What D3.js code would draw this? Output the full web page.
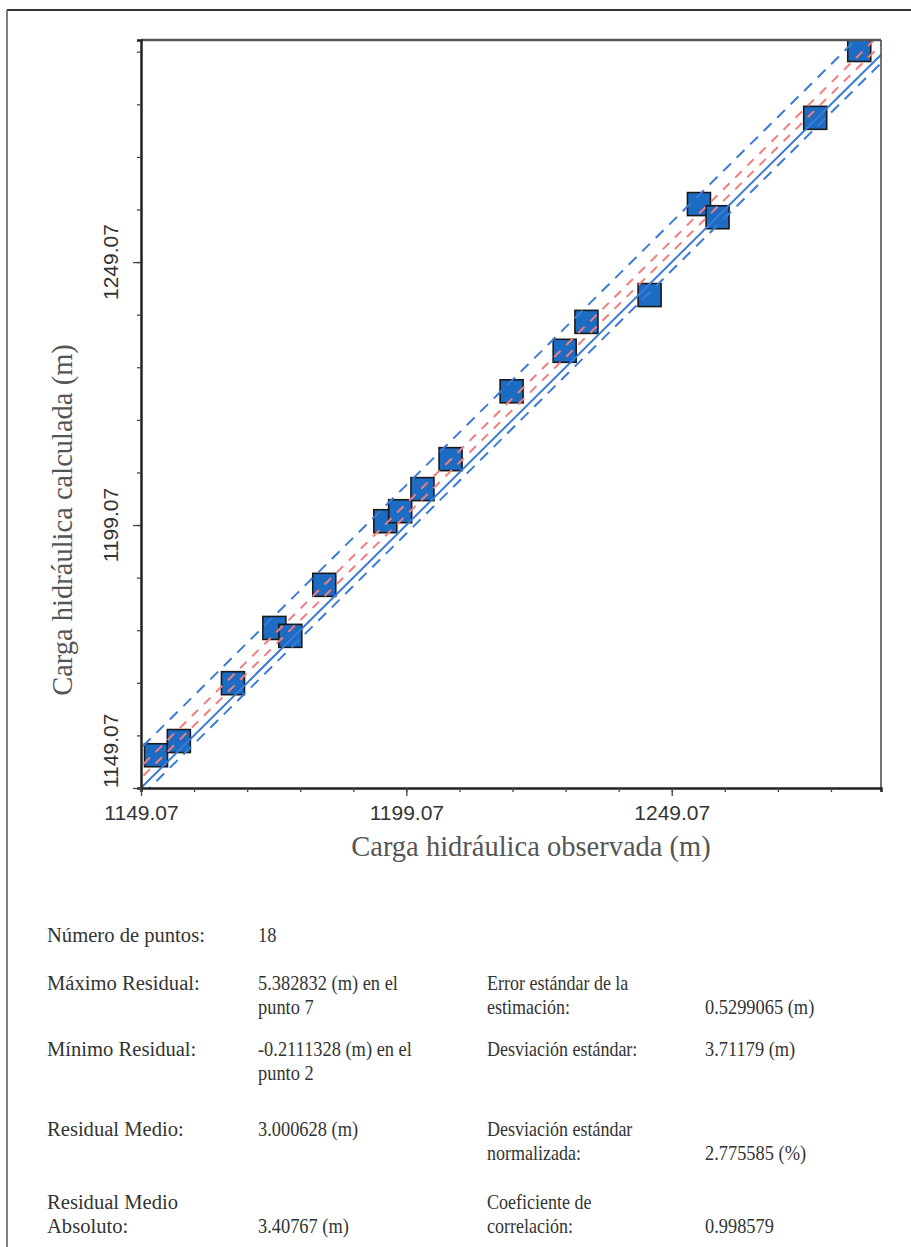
<!DOCTYPE html>
<html>
<head>
<meta charset="utf-8">
<script src="https://cdn.jsdelivr.net/npm/d3@7/dist/d3.min.js"></script>
<style>
  html, body { margin: 0; padding: 0; background: #fff; }
  svg { display: block; }
</style>
</head>
<body>
<svg id="chart" width="911" height="1247"></svg>
<script>
// ---- data ----
const observed   = [1151.9, 1156.2, 1166.4, 1174.2, 1177.2, 1183.6, 1195.1, 1197.9, 1202.1,
                    1207.4, 1218.9, 1228.9, 1233.0, 1244.9, 1254.2, 1257.7, 1276.1, 1284.4];
const calculated = [1155.3, 1158.0, 1169.0, 1179.5, 1178.0, 1187.7, 1199.8, 1201.7, 1205.9,
                    1211.6, 1224.5, 1232.2, 1237.7, 1242.8, 1260.1, 1257.6, 1276.5, 1289.4];
// reference lines: offset from the 1:1 line (m) and style
const lineOffsets = [7.6, 4.1, 1.9, 0, -1.6];
const lineKinds   = ["blueDash", "redDash", "redDash", "blueSolid", "blueDash"];
const majorTicks  = [1149.07, 1199.07, 1249.07];
const tickLabels  = ["1149.07", "1199.07", "1249.07"];
const axisMin = 1149.07, xAxisMax = 1288.5, yAxisMax = 1291.3;
const xTitle = "Carga hidráulica observada (m)";
const yTitle = "Carga hidráulica calculada (m)";
const statLabels = [
  ["Número de puntos:"], ["Máximo Residual:"], ["Mínimo Residual:"],
  ["Residual Medio:"], ["Residual Medio", "Absoluto:"]
];
const statValues = [
  ["18"], ["5.382832 (m) en el", "punto 7"], ["-0.2111328 (m) en el", "punto 2"],
  ["3.000628 (m)"], ["", "3.40767 (m)"]
];
const statLabels2 = [
  null, ["Error estándar de la", "estimación:"], ["Desviación estándar:"],
  ["Desviación estándar", "normalizada:"], ["Coeficiente de", "correlación:"]
];
const statValues2 = [
  null, ["", "0.5299065 (m)"], ["3.71179 (m)"], ["", "2.775585 (%)"], ["", "0.998579"]
];

// ---- layout ----
const svg = d3.select("#chart");
const L = 141, R = 881, T = 40, B = 788;

const x = d3.scaleLinear().domain([axisMin, xAxisMax]).range([L, R]);
const y = d3.scaleLinear().domain([axisMin, yAxisMax]).range([B, T]);

// outer frame
svg.append("line").attr("x1", 7).attr("x2", 911).attr("y1", 10).attr("y2", 10)
  .attr("stroke", "#333").attr("stroke-width", 2);
svg.append("line").attr("x1", 7).attr("x2", 7).attr("y1", 10).attr("y2", 1247)
  .attr("stroke", "#555").attr("stroke-width", 1.5);

// clip
svg.append("defs").append("clipPath").attr("id", "plotclip")
  .append("rect").attr("x", L).attr("y", T).attr("width", R - L).attr("height", B - T);

// points (drawn below lines)
const sz = 23;
const pts = svg.append("g").attr("clip-path", "url(#plotclip)");
pts.selectAll("rect").data(observed.map((o, i) => [o, calculated[i]])).join("rect")
  .attr("x", d => x(d[0]) - sz / 2).attr("y", d => y(d[1]) - sz / 2)
  .attr("width", sz).attr("height", sz)
  .attr("fill", "#1c6cc4").attr("stroke", "#1a1a1a").attr("stroke-width", 1.6);

// reference lines
const styles = {
  blueDash:  { stroke: "#3b7bd4", dash: "11,8", w: 2 },
  redDash:   { stroke: "#f27d7d", dash: "9,8", w: 2 },
  blueSolid: { stroke: "#3b7bd4", dash: null, w: 2 }
};
const lines = svg.append("g").attr("clip-path", "url(#plotclip)");
lineOffsets.forEach((off, i) => {
  const s = styles[lineKinds[i]];
  const x0 = axisMin - 20, x1 = yAxisMax + 20;
  lines.append("line")
    .attr("x1", x(x0)).attr("y1", y(x0 + off))
    .attr("x2", x(x1)).attr("y2", y(x1 + off))
    .attr("stroke", s.stroke).attr("stroke-width", s.w)
    .attr("stroke-dasharray", s.dash);
});

// plot frame
svg.append("line").attr("x1", L).attr("x2", R).attr("y1", T).attr("y2", T)
  .attr("stroke", "#555").attr("stroke-width", 2.5);
svg.append("line").attr("x1", R).attr("x2", R).attr("y1", T).attr("y2", B)
  .attr("stroke", "#444").attr("stroke-width", 1.5);

// axes
const minorTicks = d3.range(axisMin, xAxisMax, 10);
const minorTicksY = d3.range(axisMin, yAxisMax, 10);
const xAxis = d3.axisBottom(x).tickValues(minorTicks).tickSize(4).tickFormat("");
const yAxis = d3.axisLeft(y).tickValues(minorTicksY).tickSize(4).tickFormat("");
const gx = svg.append("g").attr("transform", `translate(0,${B})`).call(xAxis);
const gy = svg.append("g").attr("transform", `translate(${L},0)`).call(yAxis);
[gx, gy].forEach(g => {
  g.select(".domain").attr("stroke", "#222").attr("stroke-width", 2.5);
  g.selectAll(".tick line").attr("stroke", "#444").attr("stroke-width", 1.3);
});
// major ticks a bit longer
const gxm = svg.append("g").attr("transform", `translate(0,${B})`)
  .call(d3.axisBottom(x).tickValues(majorTicks).tickSize(8)
    .tickFormat((d, i) => tickLabels[i]));
gxm.select(".domain").remove();
gxm.selectAll(".tick line").attr("stroke", "#444").attr("stroke-width", 1.3);
gxm.selectAll(".tick text").attr("font-family", "Liberation Sans, Arial, sans-serif")
  .attr("font-size", 21).attr("fill", "#333").attr("dy", "0.71em").attr("y", 17);

const gym = svg.append("g").attr("transform", `translate(${L},0)`)
  .call(d3.axisLeft(y).tickValues(majorTicks).tickSize(8).tickFormat(""));
gym.select(".domain").remove();
gym.selectAll(".tick line").attr("stroke", "#444").attr("stroke-width", 1.3);
majorTicks.forEach((v, i) => {
  const first = i === 0;
  svg.append("text")
    .attr("transform", `translate(${L - 23},${first ? B : y(v)}) rotate(-90)`)
    .attr("text-anchor", first ? "start" : "middle")
    .attr("font-family", "Liberation Sans, Arial, sans-serif")
    .attr("font-size", 21).attr("fill", "#333")
    .text(tickLabels[i]);
});

// axis titles
svg.append("text").attr("x", 531).attr("y", 856).attr("text-anchor", "middle")
  .attr("font-family", "Liberation Serif, Times New Roman, serif")
  .attr("font-size", 28.5).attr("fill", "#555").text(xTitle);
svg.append("text").attr("transform", `translate(72,520) rotate(-90)`)
  .attr("text-anchor", "middle")
  .attr("font-family", "Liberation Serif, Times New Roman, serif")
  .attr("font-size", 28.5).attr("fill", "#555").text(yTitle);

// statistics block
const rowY = [942, 990, 1056, 1136, 1209];
const lineH = 24;
function column(xx, sx, data) {
  const g = svg.append("g")
    .attr("transform", `translate(${xx},0) scale(${sx},1)`)
    .attr("font-family", "Liberation Serif, Times New Roman, serif")
    .attr("font-size", 20).attr("fill", "#333");
  data.forEach((lns, i) => {
    if (!lns) return;
    lns.forEach((t, k) => {
      if (t) g.append("text").attr("x", 0).attr("y", rowY[i] + k * lineH).text(t);
    });
  });
}
column(47, 1.03, statLabels);
column(258, 0.92, statValues);
column(487, 0.9, statLabels2);
column(705, 0.92, statValues2);
</script>
</body>
</html>
